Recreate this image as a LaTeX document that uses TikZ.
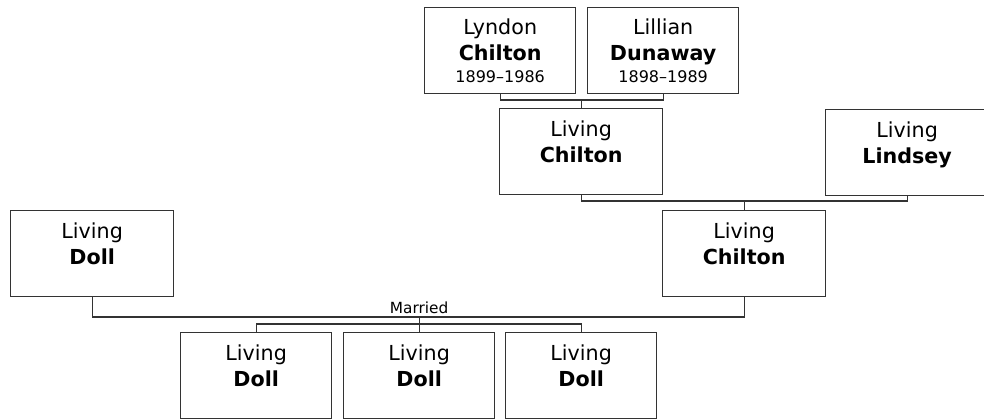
\documentclass[tikz,border=0pt]{standalone}
\usepackage{fontspec}
\setmainfont{DejaVu Sans}
\usetikzlibrary{positioning,calc}

\tikzset{
  person/.style={draw=black!80,line width=1pt,anchor=north west,minimum height=64.5pt,inner sep=0pt},
  narrow/.style={person,minimum width=113.25pt},
  wide/.style={person,minimum width=122.25pt},
  nametext/.style={anchor=north,align=center,inner sep=0pt,font=\fontsize{15.5}{19.5}\selectfont},
  link/.style={draw=black!80,line width=1pt},
}

\begin{document}
\begin{tikzpicture}[x=0.75pt,y=-0.75pt]
  \useasboundingbox (0,0) rectangle (984,418);

  \node[narrow] (lyndon) at (424,7) {};
  \node[narrow] (lillian) at (587,7) {};
  \node[wide] (chilton1) at (499,108) {};
  \node[wide] (lindsey) at (825,109) {};
  \node[wide] (chilton2) at (662,210) {};
  \node[wide] (doll) at (10,210) {};
  \node[narrow] (kid1) at (180,332) {};
  \node[narrow] (kid2) at (343,332) {};
  \node[narrow] (kid3) at (505,332) {};

  \node[nametext] (lyndon-t) at ($(lyndon.north)+(0,12)$) {Lyndon\\\textbf{Chilton}\\[-3pt]{\fontsize{12}{14}\selectfont 1899–1986}};
  \node[nametext] (lillian-t) at ($(lillian.north)+(0,12)$) {Lillian\\\textbf{Dunaway}\\[-3pt]{\fontsize{12}{14}\selectfont 1898–1989}};
  \node[nametext] (chilton1-t) at ($(chilton1.north)+(0,13)$) {Living\\\textbf{Chilton}};
  \node[nametext] (lindsey-t) at ($(lindsey.north)+(0,13)$) {Living\\\textbf{Lindsey}};
  \node[nametext] (chilton2-t) at ($(chilton2.north)+(0,13)$) {Living\\\textbf{Chilton}};
  \node[nametext] (doll-t) at ($(doll.north)+(0,13)$) {Living\\\textbf{Doll}};
  \node[nametext] (kid1-t) at ($(kid1.north)+(0,13)$) {Living\\\textbf{Doll}};
  \node[nametext] (kid2-t) at ($(kid2.north)+(0,13)$) {Living\\\textbf{Doll}};
  \node[nametext] (kid3-t) at ($(kid3.north)+(0,13)$) {Living\\\textbf{Doll}};

  \coordinate (gpbar) at (0,100);
  \coordinate (pbar) at (0,201);
  \coordinate (mbar) at (0,317);
  \coordinate (kbar) at (0,324);

  \draw[link] (lyndon.south) |- (lillian.south |- gpbar) -- (lillian.south);
  \draw[link] (chilton1.north) -- (chilton1.north |- gpbar);
  \draw[link] (chilton1.south) |- (lindsey.south |- pbar) -- (lindsey.south);
  \draw[link] (chilton2.north) -- (chilton2.north |- pbar);
  \draw[link] (doll.south) |- (chilton2.south |- mbar) -- (chilton2.south);
  \draw[link] (kid2.north) -- (kid2.north |- mbar);
  \draw[link] (kid1.north) |- (kid3.north |- kbar) -- (kid3.north);

  \node[above,inner sep=2pt,font=\fontsize{11.5}{13}\selectfont] (married) at (kid2.north |- mbar) {Married};
\end{tikzpicture}
\end{document}
